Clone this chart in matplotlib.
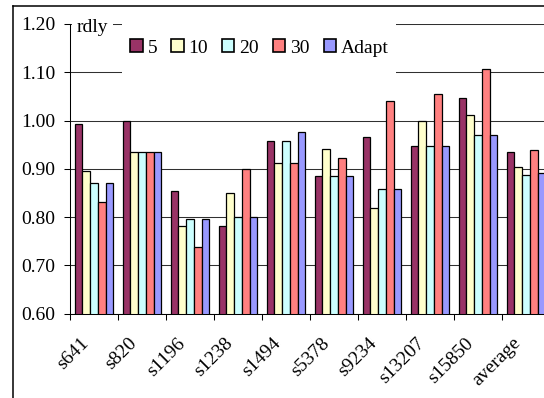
import matplotlib
matplotlib.use("Agg")
import matplotlib.pyplot as plt
from matplotlib.lines import Line2D
from matplotlib.patches import Rectangle, Patch
import numpy as np

plt.rcParams['font.family'] = ['Liberation Serif', 'DejaVu Serif']

circuits = ["s641", "s820", "s1196", "s1238", "s1494", "s5378", "s9234",
            "s13207", "s15850", "average"]
series_names = ["5", "10", "20", "30", "Adapt"]
vals_5 = [0.993, 1.000, 0.855, 0.781, 0.958, 0.885, 0.966, 0.947, 1.047, 0.935]
vals_10 = [0.896, 0.935, 0.781, 0.851, 0.912, 0.942, 0.818, 1.000, 1.012, 0.903]
vals_20 = [0.870, 0.935, 0.796, 0.800, 0.958, 0.885, 0.858, 0.947, 0.970, 0.888]
vals_30 = [0.832, 0.935, 0.739, 0.900, 0.912, 0.923, 1.040, 1.054, 1.107, 0.940]
vals_adapt = [0.870, 0.935, 0.796, 0.800, 0.976, 0.885, 0.858, 0.947, 0.970, 0.892]
y_ticks = [0.60, 0.70, 0.80, 0.90, 1.00, 1.10, 1.20]

series = [vals_5, vals_10, vals_20, vals_30, vals_adapt]
colors = ["#993366", "#FFFFCC", "#CCFFFF", "#FF8080", "#9999FF"]

W, H = 544, 398
fig = plt.figure(figsize=(W / 100, H / 100), dpi=100)
fig.patch.set_facecolor("white")

# plot area (in pixels): x 70..550, y 24..313.7
ax = fig.add_axes([70 / W, (H - 313.7) / H, 480 / W, 289.7 / H])

n = len(series)
bw = 1 / 6.2
x = np.arange(len(circuits))
for k, (vals, c) in enumerate(zip(series, colors)):
    ax.bar(x + (k - (n - 1) / 2) * bw, vals, width=bw, color=c,
           edgecolor="black", linewidth=0.9, zorder=2)

ax.set_xlim(-0.5, len(circuits) - 0.5)
ax.set_ylim(0.6, 1.2)
ax.set_yticks(y_ticks)
ax.set_yticklabels([f"{v:.2f}" for v in y_ticks], fontsize=14)
ax.yaxis.grid(True, color="#303030", linewidth=0.75)
ax.set_axisbelow(True)

ax.set_xticks(np.arange(len(circuits) + 1) - 0.5)
ax.set_xticklabels([])
ax.tick_params(axis="x", direction="out", length=4.3, width=0.75)
ax.tick_params(axis="y", direction="out", length=4.3, width=0.75, pad=6.5)
for s in ("top", "right"):
    ax.spines[s].set_visible(False)
for s in ("left", "bottom"):
    ax.spines[s].set_linewidth(0.75)

for i, name in enumerate(circuits):
    ax.annotate(name, xy=(i, 0), xycoords=("data", "axes fraction"),
                xytext=(-7.5 * 0.72, -27 * 0.72), textcoords="offset points",
                rotation=45, ha="right", va="center", rotation_mode="anchor",
                fontsize=14)

# chart frame (top and left edges)
fig.add_artist(Line2D([13 / W, 13 / W], [0, 1 - 5.5 / H], transform=fig.transFigure,
                      color="black", linewidth=1.1))
fig.add_artist(Line2D([13 / W, 1], [1 - 5.5 / H, 1 - 5.5 / H], transform=fig.transFigure,
                      color="black", linewidth=1.1))

# white backgrounds behind the axis title and the legend
fig.add_artist(Rectangle((71.5 / W, 1 - 31 / H), (113 - 71.5) / W, 13 / H,
                         transform=fig.transFigure, facecolor="white",
                         edgecolor="none", zorder=2))
fig.add_artist(Rectangle((122 / W, 1 - 76 / H), (396 - 122) / W, 58 / H,
                         transform=fig.transFigure, facecolor="white",
                         edgecolor="none", zorder=2))

fig.text(77 / W, 1 - 32 / H, "rdly", ha="left", va="baseline", fontsize=14, zorder=3)

handles = [Patch(facecolor=c, edgecolor="black", linewidth=1.2) for c in colors]
fig.legend(handles, series_names, loc="center left",
           bbox_to_anchor=(130 / W, 1 - 48 / H), ncol=5, frameon=False,
           fontsize=14, handlelength=0.65, handleheight=0.65,
           handletextpad=0.26, columnspacing=0.7, borderpad=0, borderaxespad=0)

fig.savefig("out.png", dpi=100)
